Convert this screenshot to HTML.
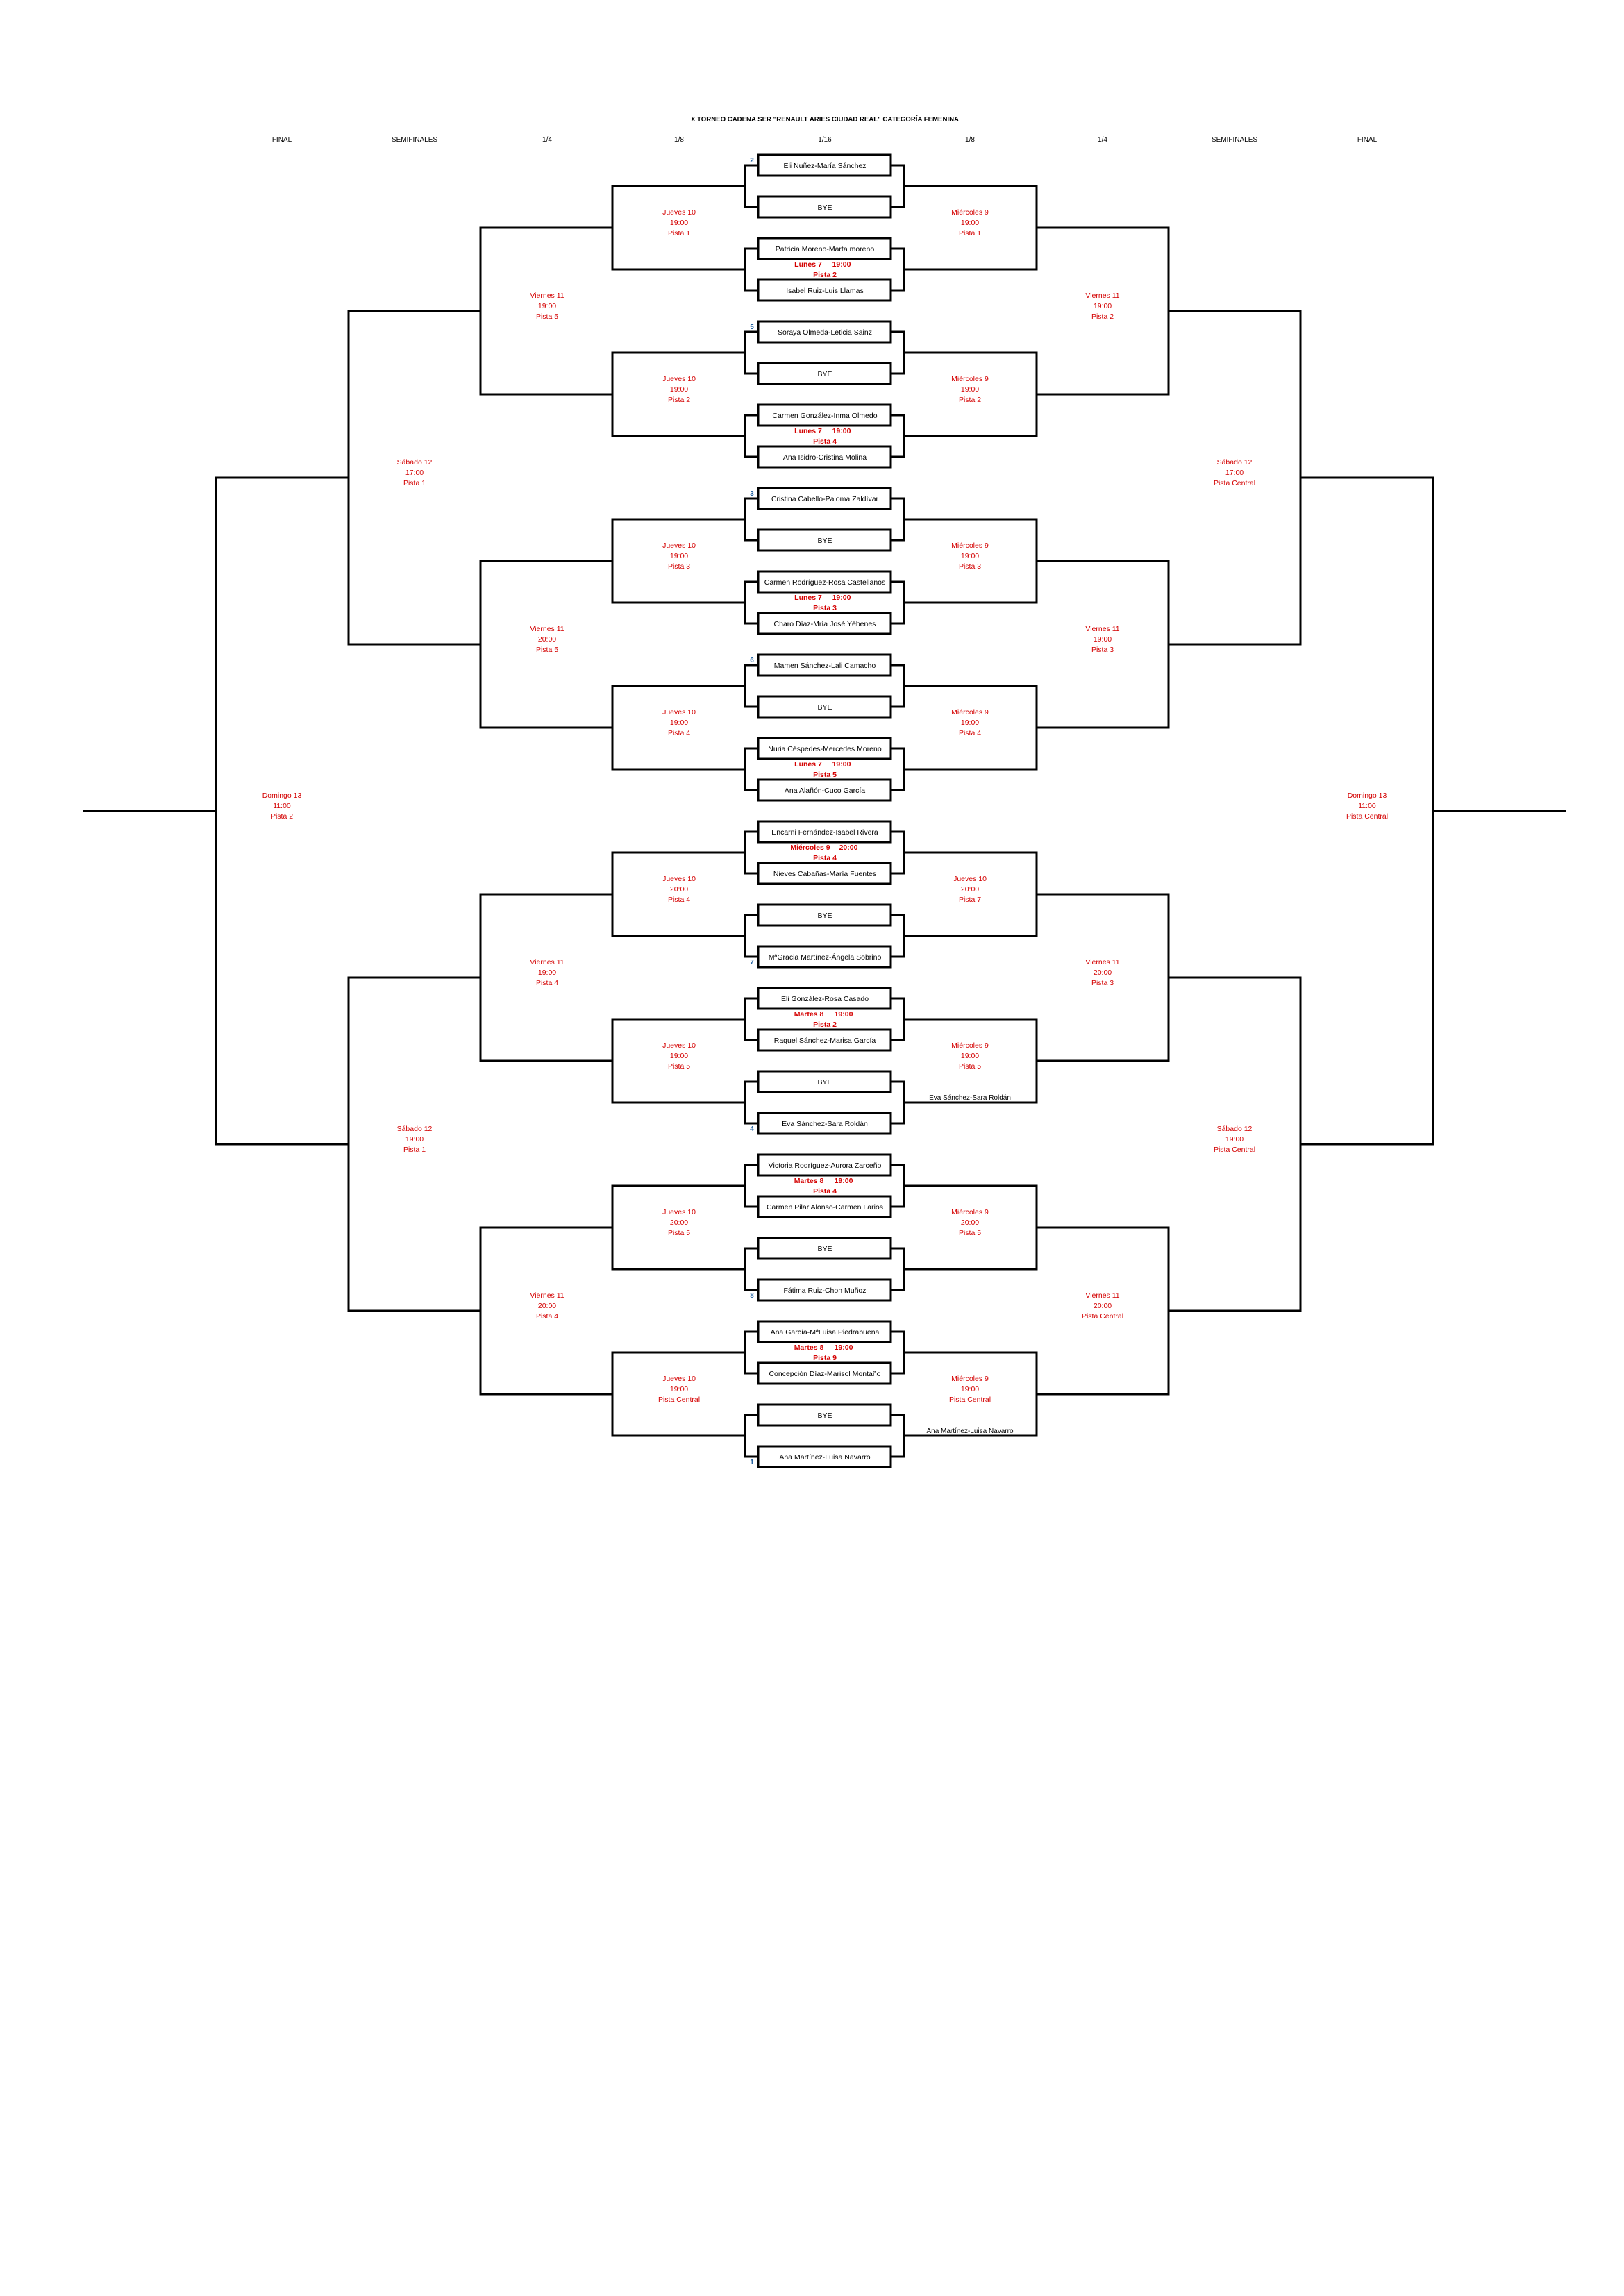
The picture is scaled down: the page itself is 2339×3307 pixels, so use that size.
<!DOCTYPE html>
<html><head><meta charset="utf-8"><style>
html,body{margin:0;padding:0;background:#fff}
svg{display:block}
text{font-family:"Liberation Sans",Arial,sans-serif;text-anchor:middle}
.n{font-size:10.5px;fill:#000}
.h{font-size:10px;fill:#000}
.r{font-size:10.5px;fill:#d40000}
.m{font-size:10.5px;fill:#d40000;font-weight:bold}
.s{font-size:10px;fill:#1f5f9f;font-weight:bold}
.b{font-size:10px;fill:#000}
</style></head><body>
<svg width="2339" height="3307" viewBox="0 0 2339 3307" xmlns="http://www.w3.org/2000/svg">
<rect width="2339" height="3307" fill="#fff"/>
<text x="1188" y="175" font-size="10.5" font-weight="bold" textLength="386" lengthAdjust="spacingAndGlyphs">X TORNEO CADENA SER "RENAULT ARIES CIUDAD REAL" CATEGORÍA FEMENINA</text>
<g class="h">
<text class="h" x="406" y="204">FINAL</text>
<text class="h" x="597" y="204">SEMIFINALES</text>
<text class="h" x="788" y="204">1/4</text>
<text class="h" x="978" y="204">1/8</text>
<text class="h" x="1188" y="204">1/16</text>
<text class="h" x="1397" y="204">1/8</text>
<text class="h" x="1588" y="204">1/4</text>
<text class="h" x="1778" y="204">SEMIFINALES</text>
<text class="h" x="1969" y="204">FINAL</text>
</g>
<g fill="none" stroke="#000" stroke-width="3" stroke-linecap="square">
<!-- level1 left -->
<path d="M1092 238H1073V298H1092M1073 268H882
M1092 358H1073V418H1092M1073 388H882
M1092 478H1073V538H1092M1073 508H882
M1092 598H1073V658H1092M1073 628H882
M1092 718H1073V778H1092M1073 748H882
M1092 838H1073V898H1092M1073 868H882
M1092 958H1073V1018H1092M1073 988H882
M1092 1078H1073V1138H1092M1073 1108H882
M1092 1198H1073V1258H1092M1073 1228H882
M1092 1318H1073V1378H1092M1073 1348H882
M1092 1438H1073V1498H1092M1073 1468H882
M1092 1558H1073V1618H1092M1073 1588H882
M1092 1678H1073V1738H1092M1073 1708H882
M1092 1798H1073V1858H1092M1073 1828H882
M1092 1918H1073V1978H1092M1073 1948H882
M1092 2038H1073V2098H1092M1073 2068H882"/>
<!-- level1 right -->
<path d="M1283 238H1302V298H1283M1302 268H1493
M1283 358H1302V418H1283M1302 388H1493
M1283 478H1302V538H1283M1302 508H1493
M1283 598H1302V658H1283M1302 628H1493
M1283 718H1302V778H1283M1302 748H1493
M1283 838H1302V898H1283M1302 868H1493
M1283 958H1302V1018H1283M1302 988H1493
M1283 1078H1302V1138H1283M1302 1108H1493
M1283 1198H1302V1258H1283M1302 1228H1493
M1283 1318H1302V1378H1283M1302 1348H1493
M1283 1438H1302V1498H1283M1302 1468H1493
M1283 1558H1302V1618H1283M1302 1588H1493
M1283 1678H1302V1738H1283M1302 1708H1493
M1283 1798H1302V1858H1283M1302 1828H1493
M1283 1918H1302V1978H1283M1302 1948H1493
M1283 2038H1302V2098H1283M1302 2068H1493"/>
<!-- level2 -->
<path d="M882 268V388M882 328H692 M882 508V628M882 568H692 M882 748V868M882 808H692 M882 988V1108M882 1048H692
M882 1228V1348M882 1288H692 M882 1468V1588M882 1528H692 M882 1708V1828M882 1768H692 M882 1948V2068M882 2008H692"/>
<path d="M1493 268V388M1493 328H1683 M1493 508V628M1493 568H1683 M1493 748V868M1493 808H1683 M1493 988V1108M1493 1048H1683
M1493 1228V1348M1493 1288H1683 M1493 1468V1588M1493 1528H1683 M1493 1708V1828M1493 1768H1683 M1493 1948V2068M1493 2008H1683"/>
<!-- level3 -->
<path d="M692 328V568M692 448H502 M692 808V1048M692 928H502 M692 1288V1528M692 1408H502 M692 1768V2008M692 1888H502"/>
<path d="M1683 328V568M1683 448H1873 M1683 808V1048M1683 928H1873 M1683 1288V1528M1683 1408H1873 M1683 1768V2008M1683 1888H1873"/>
<!-- level4 -->
<path d="M502 448V928M502 688H311 M502 1408V1888M502 1648H311"/>
<path d="M1873 448V928M1873 688H2064 M1873 1408V1888M1873 1648H2064"/>
<!-- final -->
<path d="M311 688V1648M311 1168H121"/>
<path d="M2064 688V1648M2064 1168H2254"/>
<!-- boxes -->
<rect x="1092" y="223" width="191" height="30"/><rect x="1092" y="283" width="191" height="30"/>
<rect x="1092" y="343" width="191" height="30"/><rect x="1092" y="403" width="191" height="30"/>
<rect x="1092" y="463" width="191" height="30"/><rect x="1092" y="523" width="191" height="30"/>
<rect x="1092" y="583" width="191" height="30"/><rect x="1092" y="643" width="191" height="30"/>
<rect x="1092" y="703" width="191" height="30"/><rect x="1092" y="763" width="191" height="30"/>
<rect x="1092" y="823" width="191" height="30"/><rect x="1092" y="883" width="191" height="30"/>
<rect x="1092" y="943" width="191" height="30"/><rect x="1092" y="1003" width="191" height="30"/>
<rect x="1092" y="1063" width="191" height="30"/><rect x="1092" y="1123" width="191" height="30"/>
<rect x="1092" y="1183" width="191" height="30"/><rect x="1092" y="1243" width="191" height="30"/>
<rect x="1092" y="1303" width="191" height="30"/><rect x="1092" y="1363" width="191" height="30"/>
<rect x="1092" y="1423" width="191" height="30"/><rect x="1092" y="1483" width="191" height="30"/>
<rect x="1092" y="1543" width="191" height="30"/><rect x="1092" y="1603" width="191" height="30"/>
<rect x="1092" y="1663" width="191" height="30"/><rect x="1092" y="1723" width="191" height="30"/>
<rect x="1092" y="1783" width="191" height="30"/><rect x="1092" y="1843" width="191" height="30"/>
<rect x="1092" y="1903" width="191" height="30"/><rect x="1092" y="1963" width="191" height="30"/>
<rect x="1092" y="2023" width="191" height="30"/><rect x="1092" y="2083" width="191" height="30"/>
</g>
<!-- names -->
<g>
<text class="n" x="1188" y="242">Eli Nuñez-María Sánchez</text>
<text class="n" x="1188" y="302">BYE</text>
<text class="n" x="1188" y="362">Patricia Moreno-Marta moreno</text>
<text class="n" x="1188" y="422">Isabel Ruiz-Luis Llamas</text>
<text class="n" x="1188" y="482">Soraya Olmeda-Leticia Sainz</text>
<text class="n" x="1188" y="542">BYE</text>
<text class="n" x="1188" y="602">Carmen González-Inma Olmedo</text>
<text class="n" x="1188" y="662">Ana Isidro-Cristina Molina</text>
<text class="n" x="1188" y="722">Cristina Cabello-Paloma Zaldívar</text>
<text class="n" x="1188" y="782">BYE</text>
<text class="n" x="1188" y="842">Carmen Rodríguez-Rosa Castellanos</text>
<text class="n" x="1188" y="902">Charo Díaz-Mría José Yébenes</text>
<text class="n" x="1188" y="962">Mamen Sánchez-Lali Camacho</text>
<text class="n" x="1188" y="1022">BYE</text>
<text class="n" x="1188" y="1082">Nuria Céspedes-Mercedes Moreno</text>
<text class="n" x="1188" y="1142">Ana Alañón-Cuco García</text>
<text class="n" x="1188" y="1202">Encarni Fernández-Isabel Rivera</text>
<text class="n" x="1188" y="1262">Nieves Cabañas-María Fuentes</text>
<text class="n" x="1188" y="1322">BYE</text>
<text class="n" x="1188" y="1382">MªGracia Martínez-Ángela Sobrino</text>
<text class="n" x="1188" y="1442">Eli González-Rosa Casado</text>
<text class="n" x="1188" y="1502">Raquel Sánchez-Marisa García</text>
<text class="n" x="1188" y="1562">BYE</text>
<text class="n" x="1188" y="1622">Eva Sánchez-Sara Roldán</text>
<text class="n" x="1188" y="1682">Victoria Rodríguez-Aurora Zarceño</text>
<text class="n" x="1188" y="1742">Carmen Pilar Alonso-Carmen Larios</text>
<text class="n" x="1188" y="1802">BYE</text>
<text class="n" x="1188" y="1862">Fátima Ruiz-Chon Muñoz</text>
<text class="n" x="1188" y="1922">Ana García-MªLuisa Piedrabuena</text>
<text class="n" x="1188" y="1982">Concepción Díaz-Marisol Montaño</text>
<text class="n" x="1188" y="2042">BYE</text>
<text class="n" x="1188" y="2102">Ana Martínez-Luisa Navarro</text>
</g>
<!-- seeds -->
<text class="s" x="1083" y="234">2</text>
<text class="s" x="1083" y="474">5</text>
<text class="s" x="1083" y="714">3</text>
<text class="s" x="1083" y="954">6</text>
<text class="s" x="1083" y="1389">7</text>
<text class="s" x="1083" y="1629">4</text>
<text class="s" x="1083" y="1869">8</text>
<text class="s" x="1083" y="2109">1</text>
<!-- mid labels -->
<text class="m" x="1164" y="384">Lunes 7</text><text class="m" x="1212" y="384">19:00</text><text class="m" x="1188" y="399">Pista 2</text>
<text class="m" x="1164" y="624">Lunes 7</text><text class="m" x="1212" y="624">19:00</text><text class="m" x="1188" y="639">Pista 4</text>
<text class="m" x="1164" y="864">Lunes 7</text><text class="m" x="1212" y="864">19:00</text><text class="m" x="1188" y="879">Pista 3</text>
<text class="m" x="1164" y="1104">Lunes 7</text><text class="m" x="1212" y="1104">19:00</text><text class="m" x="1188" y="1119">Pista 5</text>
<text class="m" x="1167" y="1224">Miércoles 9</text><text class="m" x="1222" y="1224">20:00</text><text class="m" x="1188" y="1239">Pista 4</text>
<text class="m" x="1165" y="1464">Martes 8</text><text class="m" x="1215" y="1464">19:00</text><text class="m" x="1188" y="1479">Pista 2</text>
<text class="m" x="1165" y="1704">Martes 8</text><text class="m" x="1215" y="1704">19:00</text><text class="m" x="1188" y="1719">Pista 4</text>
<text class="m" x="1165" y="1944">Martes 8</text><text class="m" x="1215" y="1944">19:00</text><text class="m" x="1188" y="1959">Pista 9</text>
<!-- left 1/8 -->
<g class="r">
<text class="r" x="978" y="309">Jueves 10</text><text class="r" x="978" y="324">19:00</text><text class="r" x="978" y="339">Pista 1</text>
<text class="r" x="978" y="549">Jueves 10</text><text class="r" x="978" y="564">19:00</text><text class="r" x="978" y="579">Pista 2</text>
<text class="r" x="978" y="789">Jueves 10</text><text class="r" x="978" y="804">19:00</text><text class="r" x="978" y="819">Pista 3</text>
<text class="r" x="978" y="1029">Jueves 10</text><text class="r" x="978" y="1044">19:00</text><text class="r" x="978" y="1059">Pista 4</text>
<text class="r" x="978" y="1269">Jueves 10</text><text class="r" x="978" y="1284">20:00</text><text class="r" x="978" y="1299">Pista 4</text>
<text class="r" x="978" y="1509">Jueves 10</text><text class="r" x="978" y="1524">19:00</text><text class="r" x="978" y="1539">Pista 5</text>
<text class="r" x="978" y="1749">Jueves 10</text><text class="r" x="978" y="1764">20:00</text><text class="r" x="978" y="1779">Pista 5</text>
<text class="r" x="978" y="1989">Jueves 10</text><text class="r" x="978" y="2004">19:00</text><text class="r" x="978" y="2019">Pista Central</text>
<!-- right 1/8 -->
<text class="r" x="1397" y="309">Miércoles 9</text><text class="r" x="1397" y="324">19:00</text><text class="r" x="1397" y="339">Pista 1</text>
<text class="r" x="1397" y="549">Miércoles 9</text><text class="r" x="1397" y="564">19:00</text><text class="r" x="1397" y="579">Pista 2</text>
<text class="r" x="1397" y="789">Miércoles 9</text><text class="r" x="1397" y="804">19:00</text><text class="r" x="1397" y="819">Pista 3</text>
<text class="r" x="1397" y="1029">Miércoles 9</text><text class="r" x="1397" y="1044">19:00</text><text class="r" x="1397" y="1059">Pista 4</text>
<text class="r" x="1397" y="1269">Jueves 10</text><text class="r" x="1397" y="1284">20:00</text><text class="r" x="1397" y="1299">Pista 7</text>
<text class="r" x="1397" y="1509">Miércoles 9</text><text class="r" x="1397" y="1524">19:00</text><text class="r" x="1397" y="1539">Pista 5</text>
<text class="r" x="1397" y="1749">Miércoles 9</text><text class="r" x="1397" y="1764">20:00</text><text class="r" x="1397" y="1779">Pista 5</text>
<text class="r" x="1397" y="1989">Miércoles 9</text><text class="r" x="1397" y="2004">19:00</text><text class="r" x="1397" y="2019">Pista Central</text>
<!-- QF -->
<text class="r" x="788" y="429">Viernes 11</text><text class="r" x="788" y="444">19:00</text><text class="r" x="788" y="459">Pista 5</text>
<text class="r" x="788" y="909">Viernes 11</text><text class="r" x="788" y="924">20:00</text><text class="r" x="788" y="939">Pista 5</text>
<text class="r" x="788" y="1389">Viernes 11</text><text class="r" x="788" y="1404">19:00</text><text class="r" x="788" y="1419">Pista 4</text>
<text class="r" x="788" y="1869">Viernes 11</text><text class="r" x="788" y="1884">20:00</text><text class="r" x="788" y="1899">Pista 4</text>
<text class="r" x="1588" y="429">Viernes 11</text><text class="r" x="1588" y="444">19:00</text><text class="r" x="1588" y="459">Pista 2</text>
<text class="r" x="1588" y="909">Viernes 11</text><text class="r" x="1588" y="924">19:00</text><text class="r" x="1588" y="939">Pista 3</text>
<text class="r" x="1588" y="1389">Viernes 11</text><text class="r" x="1588" y="1404">20:00</text><text class="r" x="1588" y="1419">Pista 3</text>
<text class="r" x="1588" y="1869">Viernes 11</text><text class="r" x="1588" y="1884">20:00</text><text class="r" x="1588" y="1899">Pista Central</text>
<!-- SF -->
<text class="r" x="597" y="669">Sábado 12</text><text class="r" x="597" y="684">17:00</text><text class="r" x="597" y="699">Pista 1</text>
<text class="r" x="597" y="1629">Sábado 12</text><text class="r" x="597" y="1644">19:00</text><text class="r" x="597" y="1659">Pista 1</text>
<text class="r" x="1778" y="669">Sábado 12</text><text class="r" x="1778" y="684">17:00</text><text class="r" x="1778" y="699">Pista Central</text>
<text class="r" x="1778" y="1629">Sábado 12</text><text class="r" x="1778" y="1644">19:00</text><text class="r" x="1778" y="1659">Pista Central</text>
<!-- Final -->
<text class="r" x="406" y="1149">Domingo 13</text><text class="r" x="406" y="1164">11:00</text><text class="r" x="406" y="1179">Pista 2</text>
<text class="r" x="1969" y="1149">Domingo 13</text><text class="r" x="1969" y="1164">11:00</text><text class="r" x="1969" y="1179">Pista Central</text>
</g>
<text class="b" x="1397" y="1584">Eva Sánchez-Sara Roldán</text>
<text class="b" x="1397" y="2064">Ana Martínez-Luisa Navarro</text>
</svg>
</body></html>
